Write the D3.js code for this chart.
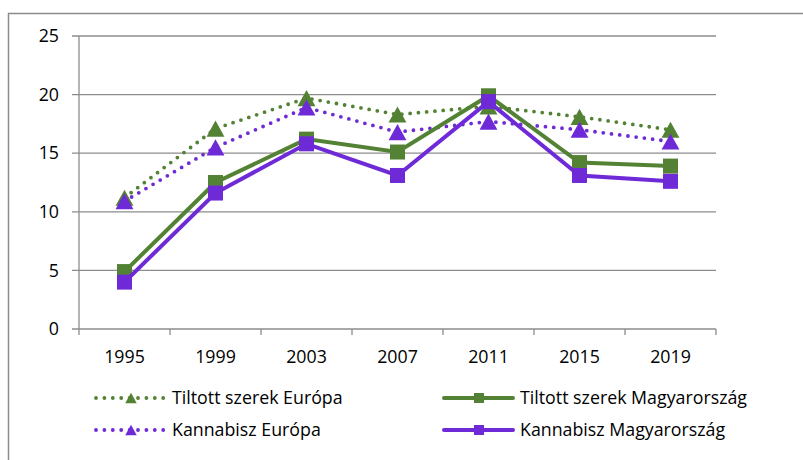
<!DOCTYPE html>
<meta charset="utf-8">
<script src="https://d3js.org/d3.v7.min.js"></script>
<style>
  body { margin: 0; background: #fff; }
  text { font-family: "Open Sans", Lato, sans-serif; fill: #000; }
</style>
<div id="chart"></div>
<script>
// data
var years = ["1995", "1999", "2003", "2007", "2011", "2015", "2019"];
var yTicks = [0, 5, 10, 15, 20, 25];
var tiltottEuropa = [11.2, 17.1, 19.7, 18.3, 19.0, 18.1, 17.0];
var kannabiszEuropa = [10.9, 15.5, 18.9, 16.8, 17.7, 17.0, 16.0];
var tiltottMagyar = [4.9, 12.5, 16.2, 15.1, 19.9, 14.2, 13.9];
var kannabiszMagyar = [4.0, 11.6, 15.8, 13.1, 19.4, 13.1, 12.6];

var green = "#548235", purple = "#6f2ad8", gridCol = "#8c8c8c";

var series = [
  { name: "Tiltott szerek Európa", vals: tiltottEuropa, color: green, dotted: true, shape: "tri" },
  { name: "Kannabisz Európa", vals: kannabiszEuropa, color: purple, dotted: true, shape: "tri" },
  { name: "Tiltott szerek Magyarország", vals: tiltottMagyar, color: green, dotted: false, shape: "sq" },
  { name: "Kannabisz Magyarország", vals: kannabiszMagyar, color: purple, dotted: false, shape: "sq" }
];

var W = 803, H = 460, fs = 17.8;
var svg = d3.select("#chart").append("svg").attr("width", W).attr("height", H);

// outer chart border (runs off right and bottom)
svg.append("rect").attr("x", 8.5).attr("y", 13.5).attr("width", 820).attr("height", 470)
  .attr("fill", "none").attr("stroke", gridCol).attr("stroke-width", 1.5);

var x = d3.scaleBand().domain(years).range([79, 716]);
var y = d3.scaleLinear().domain([0, 25]).range([329, 36]);

// gridlines + y labels
var gy = svg.append("g");
yTicks.forEach(function(t) {
  gy.append("line").attr("x1", 72).attr("x2", 716).attr("y1", y(t)).attr("y2", y(t))
    .attr("stroke", gridCol).attr("stroke-width", 1.3);
  gy.append("text").attr("x", 59).attr("y", y(t)).attr("dy", "0.35em")
    .attr("text-anchor", "end").attr("font-size", fs).text(t);
});
// y axis line
svg.append("line").attr("x1", 79).attr("x2", 79).attr("y1", y(25)).attr("y2", y(0))
  .attr("stroke", gridCol).attr("stroke-width", 1.3);

// x axis ticks and labels
var xEdges = years.map(function(d) { return x(d); }).concat([716]);
xEdges.forEach(function(px) {
  svg.append("line").attr("x1", px).attr("x2", px).attr("y1", y(0)).attr("y2", y(0) + 6)
    .attr("stroke", gridCol).attr("stroke-width", 1.3);
});
years.forEach(function(d) {
  svg.append("text").attr("x", x(d) + x.bandwidth() / 2).attr("y", 357).attr("dy", "0.35em")
    .attr("text-anchor", "middle").attr("font-size", fs).text(d);
});

var line = d3.line()
  .x(function(d, i) { return x(years[i]) + x.bandwidth() / 2; })
  .y(function(d) { return y(d); });

function marker(g, shape, cx, cy, size, color) {
  if (shape === "tri") {
    var h = size * 0.95, w = size * 1.05;
    g.append("path")
      .attr("d", "M" + cx + "," + (cy - h / 2) + "L" + (cx + w / 2) + "," + (cy + h / 2) + "L" + (cx - w / 2) + "," + (cy + h / 2) + "Z")
      .attr("fill", color);
  } else {
    g.append("rect").attr("x", cx - size / 2).attr("y", cy - size / 2)
      .attr("width", size).attr("height", size).attr("fill", color);
  }
}

series.forEach(function(s) {
  var g = svg.append("g");
  g.append("path").datum(s.vals).attr("d", line).attr("fill", "none")
    .attr("stroke", s.color)
    .attr("stroke-width", s.dotted ? 3.8 : 4)
    .attr("stroke-linecap", s.dotted ? "round" : "butt")
    .attr("stroke-dasharray", s.dotted ? "0 8.3" : null);
  s.vals.forEach(function(v, i) {
    marker(g, s.shape, x(years[i]) + x.bandwidth() / 2, y(v), s.shape === "tri" ? 17 : 15, s.color);
  });
});

// legend
var leg = [
  { s: series[0], lx: 96, ly: 398 },
  { s: series[2], lx: 444, ly: 398 },
  { s: series[1], lx: 96, ly: 430 },
  { s: series[3], lx: 444, ly: 430 }
];
leg.forEach(function(l) {
  var g = svg.append("g");
  var s = l.s;
  g.append("line").attr("x1", l.lx).attr("x2", l.lx + 69).attr("y1", l.ly).attr("y2", l.ly)
    .attr("stroke", s.color)
    .attr("stroke-width", s.dotted ? 3.8 : 4)
    .attr("stroke-linecap", "round")
    .attr("stroke-dasharray", s.dotted ? "0 8.4" : null);
  marker(g, s.shape, l.lx + 35, l.ly, s.shape === "tri" ? 11 : 10, s.color);
  g.append("text").attr("x", l.lx + 76).attr("y", l.ly).attr("dy", "0.35em")
    .attr("font-size", fs).text(s.name);
});
</script>
